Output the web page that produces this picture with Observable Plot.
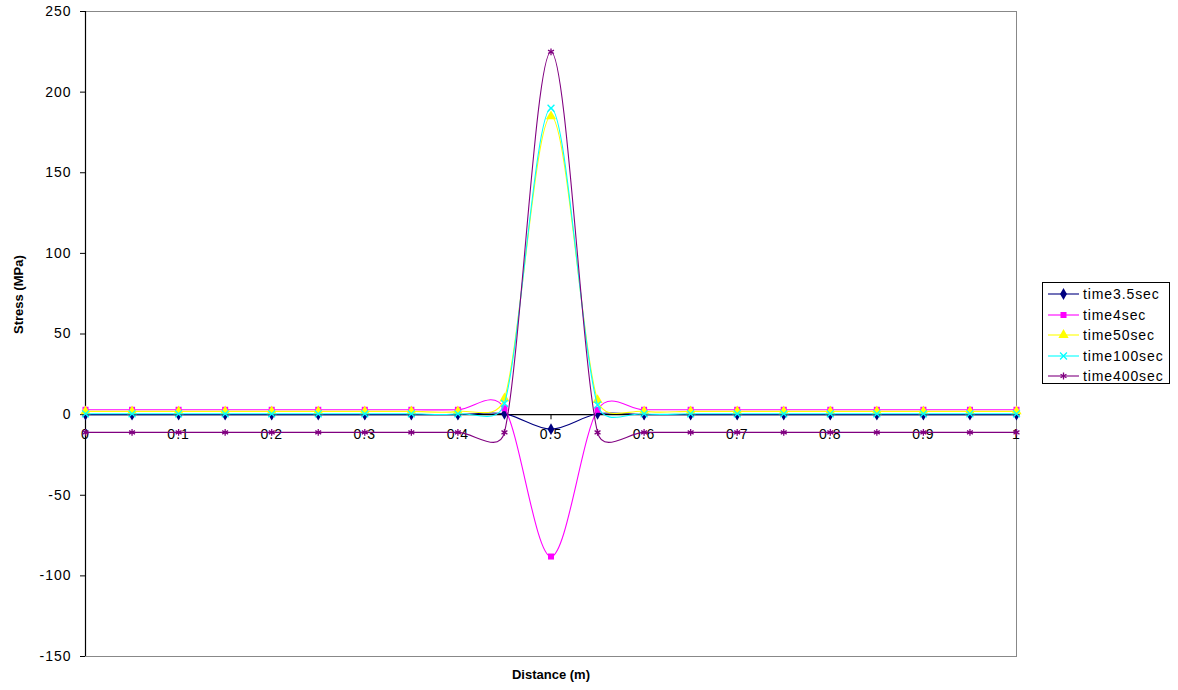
<!DOCTYPE html>
<html>
<head>
<meta charset="utf-8">
<script src="https://cdn.jsdelivr.net/npm/d3@7"></script>
<script src="https://cdn.jsdelivr.net/npm/@observablehq/plot@0.6"></script>
<style>
  html, body { margin: 0; padding: 0; background: #fff; }
  #wrap { position: relative; width: 1178px; height: 690px; font-family: "Liberation Sans", Arial, sans-serif; }
  #legend { position: absolute; left: 1042px; top: 282px; width: 128px; height: 102px; border: 1px solid #000; background: #fff; box-sizing: border-box; }
  .row { position: absolute; left: 0; height: 20px; line-height: 20px; display: flex; align-items: center; font-size: 14px; letter-spacing: 0.9px; color: #000; white-space: nowrap; }
  .row svg { display: block; margin-left: 5px; margin-right: 4px; }
  .tl text { letter-spacing: 1px; }
</style>
</head>
<body>
<div id="wrap"></div>
<script>
// ---- data ----
const distance = [0, 0.05, 0.1, 0.15, 0.2, 0.25, 0.3, 0.35, 0.4, 0.45, 0.5, 0.55, 0.6, 0.65, 0.7, 0.75, 0.8, 0.85, 0.9, 0.95, 1];
const time3_5sec = [0, 0, 0, 0, 0, 0, 0, 0, 0, 0.5, -9, 0.5, 0, 0, 0, 0, 0, 0, 0, 0, 0];
const time4sec   = [3, 3, 3, 3, 3, 3, 3, 3, 3, 4, -88, 3, 3, 3, 3, 3, 3, 3, 3, 3, 3];
const time50sec  = [2, 2, 2, 2, 2, 2, 2, 2, 2, 10, 185, 9, 2, 2, 2, 2, 2, 2, 2, 2, 2];
const time100sec = [0.5, 0.5, 0.5, 0.5, 0.5, 0.5, 0.5, 0.5, 0.5, 7, 190, 6, 0.5, 0.5, 0.5, 0.5, 0.5, 0.5, 0.5, 0.5, 0.5];
const time400sec = [-11, -11, -11, -11, -11, -11, -11, -11, -11, -11, 225, -11, -11, -11, -11, -11, -11, -11, -11, -11, -11];
const seriesNames = ["time3.5sec", "time4sec", "time50sec", "time100sec", "time400sec"];
const xTicks = [0, 0.1, 0.2, 0.3, 0.4, 0.5, 0.6, 0.7, 0.8, 0.9, 1];
const yTicks = [-150, -100, -50, 0, 50, 100, 150, 200, 250];

// ---- styles ----
const seriesValues = [time3_5sec, time4sec, time50sec, time100sec, time400sec];
const colors = ["#000080", "#FF00FF", "#FFFF00", "#00FFFF", "#800080"];
const symbols = ["diamond", "square", "triangle", "times", "asterisk"];
const filled = [true, true, true, false, false];
const symR = [3.6, 3.4, 3.8, 3.2, 3.2];

// Spreadsheet-style smoothing: Catmull-Rom Bezier with tangents capped at half the segment length
function curveSmooth(context) {
  let pts;
  return {
    areaStart() {}, areaEnd() {},
    lineStart() { pts = []; },
    point(x, y) { pts.push([+x, +y]); },
    lineEnd() {
      const n = pts.length;
      if (!n) return;
      context.moveTo(pts[0][0], pts[0][1]);
      for (let i = 0; i < n - 1; i++) {
        const p0 = pts[Math.max(i - 1, 0)], p1 = pts[i], p2 = pts[i + 1], p3 = pts[Math.min(i + 2, n - 1)];
        const half = Math.hypot(p2[0] - p1[0], p2[1] - p1[1]) / 2;
        let ax = (p2[0] - p0[0]) / 6, ay = (p2[1] - p0[1]) / 6;
        let bx = (p3[0] - p1[0]) / 6, by = (p3[1] - p1[1]) / 6;
        const la = Math.hypot(ax, ay), lb = Math.hypot(bx, by);
        if (la > half) { ax *= half / la; ay *= half / la; }
        if (lb > half) { bx *= half / lb; by *= half / lb; }
        context.bezierCurveTo(p1[0] + ax, p1[1] + ay, p2[0] - bx, p2[1] - by, p2[0], p2[1]);
      }
    }
  };
}

const rows = [];
seriesNames.forEach((name, s) => {
  distance.forEach((x, i) => rows.push({series: name, s, x, y: seriesValues[s][i]}));
});

const marks = [
  Plot.frame({stroke: "#888"}),
  Plot.axisY({ticks: yTicks, tickSize: 5, tickPadding: 9, fontSize: 14, tickFormat: d => String(d), label: null, className: "tl"}),
  Plot.ruleX([0], {stroke: "#000", strokeWidth: 1.2}),
  Plot.ruleY([0], {stroke: "#000", strokeWidth: 1.2}),
  Plot.ruleX(xTicks, {x: d => d, y1: 0, y2: -3.2, stroke: "#000"}),
  Plot.text(xTicks, {x: d => d, y: 0, dy: 20, text: d => String(d), fontSize: 14, fill: "#000", className: "tl"})
];
seriesNames.forEach((name, s) => {
  const data = rows.filter(r => r.s === s);
  marks.push(Plot.line(data, {x: "x", y: "y", curve: curveSmooth, stroke: colors[s], strokeWidth: 1.1}));
  marks.push(Plot.dot(data, filled[s]
    ? {x: "x", y: "y", symbol: () => symbols[s], r: symR[s], fill: colors[s], stroke: "none"}
    : {x: "x", y: "y", symbol: () => symbols[s], r: symR[s], stroke: colors[s], strokeWidth: 1.3, fill: "none"}));
});
marks.push(Plot.text(["Distance (m)"], {frameAnchor: "bottom", dy: 22, text: d => d, fontWeight: "bold", fontSize: 13}));
marks.push(Plot.text(["Stress (MPa)"], {frameAnchor: "left", dx: -67, rotate: -90, text: d => d, fontWeight: "bold", fontSize: 13}));

const chart = Plot.plot({
  width: 1178,
  height: 690,
  marginLeft: 85,
  marginRight: 162,
  marginTop: 11,
  marginBottom: 34,
  style: {fontFamily: "'Liberation Sans', Arial, sans-serif", background: "#fff", color: "#000", overflow: "visible"},
  x: {domain: [0, 1], axis: null},
  y: {domain: [-150, 250], axis: null},
  symbol: {type: "identity"},
  marks
});
const wrap = document.getElementById("wrap");
wrap.appendChild(chart);

// ---- legend ----
const legend = document.createElement("div");
legend.id = "legend";
const symMap = {diamond: d3.symbolDiamond, square: d3.symbolSquare, triangle: d3.symbolTriangle, times: d3.symbolTimes, asterisk: d3.symbolAsterisk};
seriesNames.forEach((name, s) => {
  const row = document.createElement("div");
  row.className = "row";
  row.style.top = (1 + s * 20.5) + "px";
  const svg = d3.create("svg").attr("width", 31).attr("height", 12);
  svg.append("line").attr("x1", 0).attr("x2", 31).attr("y1", 6).attr("y2", 6).attr("stroke", colors[s]).attr("stroke-width", 1.1);
  const p = d3.symbol(symMap[symbols[s]], Math.PI * symR[s] * symR[s])();
  const path = svg.append("path").attr("d", p).attr("transform", "translate(15.5,6)");
  if (filled[s]) path.attr("fill", colors[s]); else path.attr("fill", "none").attr("stroke", colors[s]).attr("stroke-width", 1.3);
  row.appendChild(svg.node());
  const span = document.createElement("span");
  span.textContent = name;
  row.appendChild(span);
  legend.appendChild(row);
});
wrap.appendChild(legend);
</script>
</body>
</html>
